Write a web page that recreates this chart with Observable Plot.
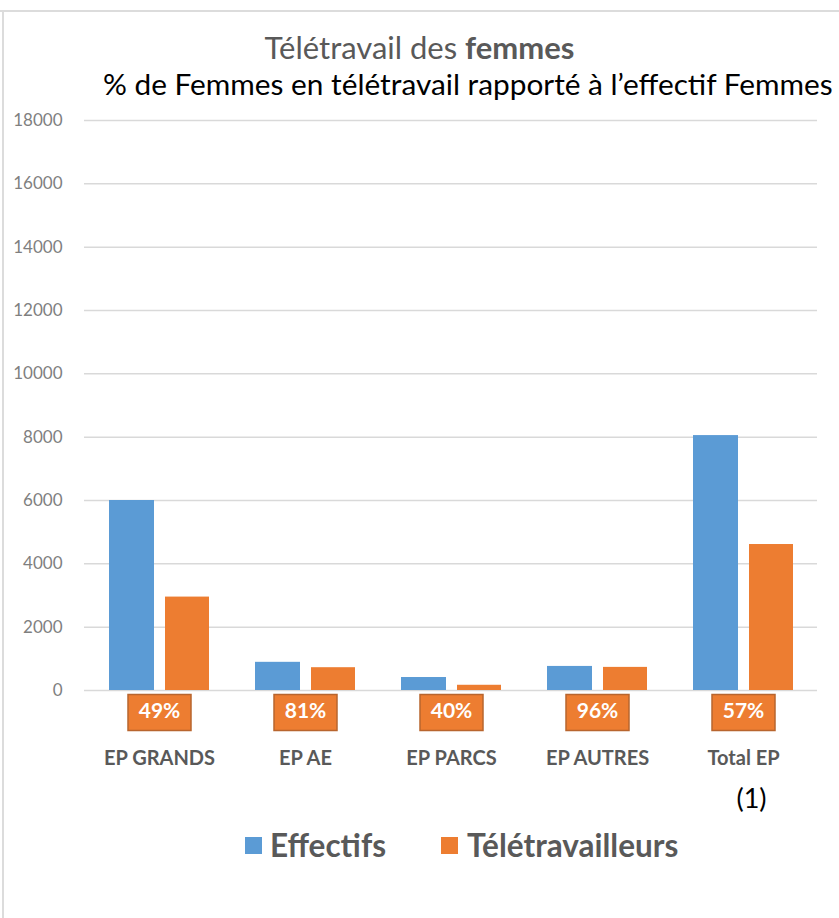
<!DOCTYPE html>
<html>
<head>
<meta charset="utf-8">
<script src="https://cdn.jsdelivr.net/npm/d3@7"></script>
<script src="https://cdn.jsdelivr.net/npm/@observablehq/plot@0.6"></script>
<style>
  html, body { margin: 0; padding: 0; background: #fff; }
  body { width: 839px; height: 918px; position: relative; overflow: hidden; font-family: Lato, "Open Sans", sans-serif; }
  .border-top { position: absolute; left: 0; top: 10px; width: 839px; height: 2px; background: #dcdcdc; }
  .border-left { position: absolute; left: 2px; top: 10px; width: 2px; height: 908px; background: #dcdcdc; }
  .title { position: absolute; top: 28px; left: 0; width: 839px; text-align: center; font-size: 31px; line-height: 38px; color: #595959; }
  .title b { font-weight: 700; }
  .subtitle { position: absolute; top: 66px; left: 103px; font-size: 29.8px; line-height: 36px; color: #000; white-space: nowrap; }
  #chart { position: absolute; top: 100px; left: 0; }
  .lg { position: absolute; font-size: 31.5px; line-height: 38px; font-weight: 700; color: #595959; white-space: nowrap; }
  .sw { position: absolute; width: 17px; height: 17px; }
</style>
</head>
<body>
<div class="border-top"></div>
<div class="border-left"></div>
<div class="title">Télétravail des <b>femmes</b></div>
<div class="subtitle">% de Femmes en télétravail rapporté à l’effectif Femmes</div>
<div id="chart"></div>
<div id="legend"></div>
<script>
const categories = ["EP GRANDS", "EP AE", "EP PARCS", "EP AUTRES", "Total EP"];
const series = ["Effectifs", "Télétravailleurs"];
const effectifs = [6000, 890, 410, 760, 8050];
const teletravailleurs = [2950, 720, 165, 730, 4610];
const percentLabels = ["49%", "81%", "40%", "96%", "57%"];
const yTicks = [0, 2000, 4000, 6000, 8000, 10000, 12000, 14000, 16000, 18000];
const footnote = "(1)";

const colors = ["#5b9bd5", "#ed7d31"];

const effRows = categories.map((c, i) => ({cat: c, value: effectifs[i]}));
const telRows = categories.map((c, i) => ({cat: c, value: teletravailleurs[i]}));
const pctRows = categories.map((c, i) => ({cat: c, label: percentLabels[i]}));
const noteRows = [{cat: categories[categories.length - 1], label: footnote}];

const boxSymbol = {
  draw(context) {
    context.moveTo(-31.5, -18);
    context.lineTo(31.5, -18);
    context.lineTo(31.5, 18);
    context.lineTo(-31.5, 18);
    context.closePath();
  }
};

const chart = Plot.plot({
  width: 839,
  height: 720,
  marginTop: 20,
  marginBottom: 130,
  marginLeft: 84,
  marginRight: 22,
  style: {fontFamily: "Lato, 'Open Sans', sans-serif", background: "transparent"},
  x: {domain: categories, paddingInner: 0.318, paddingOuter: 0.159, label: null},
  y: {domain: [0, 18000], label: null},
  marks: [
    Plot.gridY(yTicks, {stroke: "#d9d9d9", strokeOpacity: 1, strokeWidth: 1.5}),
    Plot.axisY({ticks: yTicks, tickSize: 0, tickPadding: 22, tickFormat: d3.format("d"), fontSize: 17, fill: "#7f7f7f", label: null}),
    Plot.axisX({anchor: "bottom", tickSize: 0, tickPadding: 60, fontSize: 20, fontWeight: "bold", fill: "#595959", label: null}),
    Plot.barY(effRows, {x: "cat", y: "value", fill: colors[0], insetRight: 55}),
    Plot.barY(telRows, {x: "cat", y: "value", fill: colors[1], insetLeft: 56}),
    Plot.dot(pctRows, {x: "cat", frameAnchor: "bottom", dy: 22, symbol: boxSymbol, r: 10, fill: "#ed7d31", stroke: "#b8652e", strokeWidth: 1.5}),
    Plot.text(pctRows, {x: "cat", frameAnchor: "bottom", dy: 27, text: "label", fill: "#fff", fontSize: 21, fontWeight: "bold"}),
    Plot.text(noteRows, {x: "cat", frameAnchor: "bottom", dy: 117, dx: 8, text: "label", fill: "#000", fontSize: 27})
  ]
});
document.getElementById("chart").appendChild(chart);

// legend built from the series names and colors
const legend = document.getElementById("legend");
const swX = [245, 441];
const txtX = [270, 467];
series.forEach((s, i) => {
  const sw = document.createElement("div");
  sw.className = "sw";
  sw.style.left = swX[i] + "px";
  sw.style.top = "837px";
  sw.style.background = colors[i];
  legend.appendChild(sw);
  const t = document.createElement("div");
  t.className = "lg";
  t.style.left = txtX[i] + "px";
  t.style.top = "826px";
  t.textContent = s;
  legend.appendChild(t);
});
</script>
</body>
</html>
